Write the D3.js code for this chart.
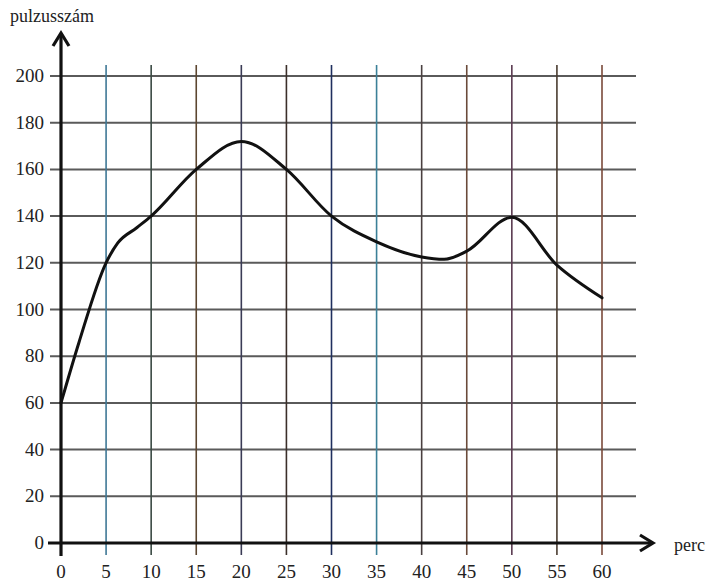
<!DOCTYPE html>
<html><head><meta charset="utf-8">
<script src="https://cdn.jsdelivr.net/npm/d3@7"></script>
<style>body{margin:0;background:#fff}svg{display:block}
svg text{font-family:"Liberation Serif",serif;}</style>
</head><body>
<svg id="c" width="713" height="581" font-family="Liberation Serif"></svg>
<script>
const minutes = [0, 2, 5, 6.3, 8.4, 10, 15, 20, 25, 30, 35, 40, 42.5, 45, 50, 55, 60];
const pulse   = [60, 86, 120, 128.5, 135, 140, 160, 172, 160, 140, 129, 122.5, 121.5, 125, 139.5, 119, 105];
const xTicks = [0,5,10,15,20,25,30,35,40,45,50,55,60];
const yTicks = [0,20,40,60,80,100,120,140,160,180,200];
const xTitle = "perc";
const yTitle = "pulzusszám";
const vColors = ["#222","#3f7896","#3b4a44","#5c4630","#3a3b55","#3b2f2a","#1f2f5e","#3b8098","#4a4040","#6a4a3a","#5a3a50","#4a3c30","#7a4a3a"];

const svg = d3.select("#c");
const x = d3.scaleLinear().domain([0,60]).range([61,602]);
const y = d3.scaleLinear().domain([0,200]).range([543,76]);

svg.append("g").selectAll("line").data(yTicks.filter(d=>d>0)).join("line")
  .attr("x1",50).attr("x2",636).attr("y1",d=>y(d)).attr("y2",d=>y(d))
  .attr("stroke","#5a5a5a").attr("stroke-width",2);
svg.append("g").selectAll("line").data(xTicks.filter(d=>d>0)).join("line")
  .attr("x1",d=>x(d)).attr("x2",d=>x(d)).attr("y1",65).attr("y2",555)
  .attr("stroke",(d,i)=>vColors[i+1]).attr("stroke-width",1.6);

svg.append("line").attr("x1",48).attr("x2",652).attr("y1",y(0)).attr("y2",y(0))
  .attr("stroke","#111").attr("stroke-width",3.2);
svg.append("line").attr("x1",x(0)).attr("x2",x(0)).attr("y1",556).attr("y2",33)
  .attr("stroke","#111").attr("stroke-width",3.2);
svg.append("path").attr("d",`M${640},${y(0)-8} L${653},${y(0)} L${640},${y(0)+8}`)
  .attr("fill","none").attr("stroke","#111").attr("stroke-width",3.2);
svg.append("path").attr("d",`M${x(0)-8},${46} L${x(0)},${33} L${x(0)+8},${46}`)
  .attr("fill","none").attr("stroke","#111").attr("stroke-width",3.2);

svg.append("g").selectAll("text").data(yTicks).join("text")
  .attr("x",44).attr("y",d=>y(d)+6).attr("text-anchor","end")
  .attr("font-size",19).attr("fill","#222").text(d=>d);
svg.append("g").selectAll("text").data(xTicks).join("text")
  .attr("x",d=>x(d)).attr("y",578).attr("text-anchor","middle")
  .attr("font-size",19).attr("fill","#222").text(d=>d);
svg.append("text").attr("x",10).attr("y",22).attr("font-size",18).attr("fill","#222").text(yTitle);
svg.append("text").attr("x",674).attr("y",551).attr("font-size",18).attr("fill","#222").text(xTitle);

const pts = minutes.map((m,i)=>[m,pulse[i]]);
const line = d3.line().x(d=>x(d[0])).y(d=>y(d[1])).curve(d3.curveMonotoneX);
svg.append("path").datum(pts).attr("d",line)
  .attr("fill","none").attr("stroke","#111").attr("stroke-width",3).attr("stroke-linecap","round");
</script>
</body></html>
